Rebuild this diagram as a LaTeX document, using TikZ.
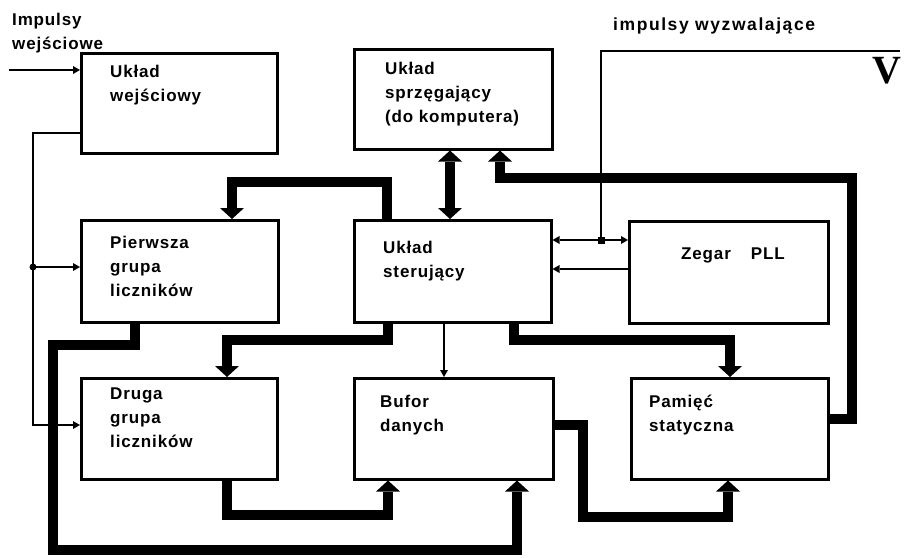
\documentclass[tikz,border=0pt]{standalone}
\usepackage{fontspec}
\newfontfamily\lab[LetterSpace=5]{Liberation Sans}
\newfontfamily\labw[LetterSpace=9]{Liberation Sans}
\newfontfamily\vfont{Liberation Serif}
\usetikzlibrary{arrows.meta,calc}
\begin{document}
\begin{tikzpicture}[x=1pt,y=-1pt,
  blok/.style={draw, line width=2.5pt, anchor=north west, inner sep=0pt},
  txt/.style={anchor=north west, inner sep=0pt, align=left, font=\lab\bfseries\fontsize{17}{24}\selectfont},
  bus/.style={line width=10pt, line join=miter, -{Triangle[width=24pt,length=11pt,line width=0pt]}},
  bus2/.style={line width=10pt, {Triangle[width=24pt,length=11pt,line width=0pt]}-{Triangle[width=24pt,length=11pt,line width=0pt]}},
  wire/.style={line width=2pt, -{Triangle[width=8pt,length=7pt,line width=0pt]}},
  plain/.style={line width=2pt},
]
\useasboundingbox (0,0) rectangle (907,557);

% boxes
\node[blok, minimum width=196pt, minimum height=100pt] (wej)   at (80,52)  {};
\node[blok, minimum width=198pt, minimum height=100pt] (sprz)  at (353,48) {};
\node[blok, minimum width=197pt, minimum height=102pt] (pierw) at (80,219) {};
\node[blok, minimum width=197pt, minimum height=102pt] (ster)  at (353,219) {};
\node[blok, minimum width=199pt, minimum height=102pt] (zeg)   at (628,220) {};
\node[blok, minimum width=196pt, minimum height=101pt] (druga) at (80,377) {};
\node[blok, minimum width=199pt, minimum height=101pt] (bufor) at (353,377) {};
\node[blok, minimum width=197pt, minimum height=101pt] (pam)   at (630,377) {};

% texts
\node[txt] (t1) at (110,65)  {Układ\\wejściowy};
\node[txt] (t2) at (385,62)  {Układ\\sprzęgający\\(do komputera)};
\node[txt] (t3) at (110,236) {Pierwsza\\grupa\\liczników};
\node[txt] (t4) at (383,241) {Układ\\sterujący};
\node[txt] (t5) at (681,248) {Zegar\hspace{20pt}PLL};
\node[txt] (t6) at (110,388) {Druga\\grupa\\liczników};
\node[txt] (t7) at (380,395) {Bufor\\danych};
\node[txt] (t8) at (649,395) {Pamięć\\statyczna};
\node[txt] (t9) at (12,13)   {Impulsy\\wejściowe};
\node[txt, font=\labw\bfseries\fontsize{17.5}{24}\selectfont] (t10) at (613,18) {impulsy wyzwalające};
\node[inner sep=0pt, font=\vfont\bfseries\fontsize{40}{40}\selectfont] (vv) at (887,71) {V};

% coordinates
\coordinate (in)   at (9,70);
\coordinate (j1)   at (33,267);
\coordinate (j2)   at (601,240);
\coordinate (trig) at (900,51);

% thin wires
\draw[wire] (in) -- (wej.west |- in);
\draw[wire] (wej.west |- 0,133) -- (33,133) -- (33,425) -- (druga.west |- 0,425);
\draw[wire] (j1) -- (pierw.west |- j1);
\fill (j1) circle (3.5pt);
\draw[plain] (trig) -- (trig -| j2) -- (j2);
\draw[wire] (j2) -- (ster.east |- j2);
\draw[wire] (j2) -- (zeg.west |- j2);
\fill ($(j2)+(-3.5,-3.5)$) rectangle +(7,7);
\draw[wire] (zeg.west |- 0,269) -- (ster.east |- 0,269);
\draw[wire] (ster.south -| 444,0) -- (bufor.north -| 444,0);

% buses
\draw[bus] (ster.north -| 387,0) -- (387,182) -- (232,182) -- (pierw.north -| 232,0);
\draw[bus2] (sprz.south -| 450,0) -- (ster.north -| 450,0);
\draw[bus] (pam.east |- 0,419) -- (852,419) -- (852,178) -- (500,178) -- (sprz.south -| 500,0);
\draw[bus] (ster.south -| 388,0) -- (388,340) -- (227,340) -- (druga.north -| 227,0);
\draw[bus] (ster.south -| 514,0) -- (514,340) -- (730,340) -- (pam.north -| 730,0);
\draw[bus] (pierw.south -| 135,0) -- (135,345) -- (53,345) -- (53,550) -- (517,550) -- (bufor.south -| 517,0);
\draw[bus] (druga.south -| 227,0) -- (227,515) -- (388,515) -- (bufor.south -| 388,0);
\draw[bus] (bufor.east |- 0,425) -- (583,425) -- (583,517) -- (728,517) -- (pam.south -| 728,0);
\end{tikzpicture}
\end{document}
